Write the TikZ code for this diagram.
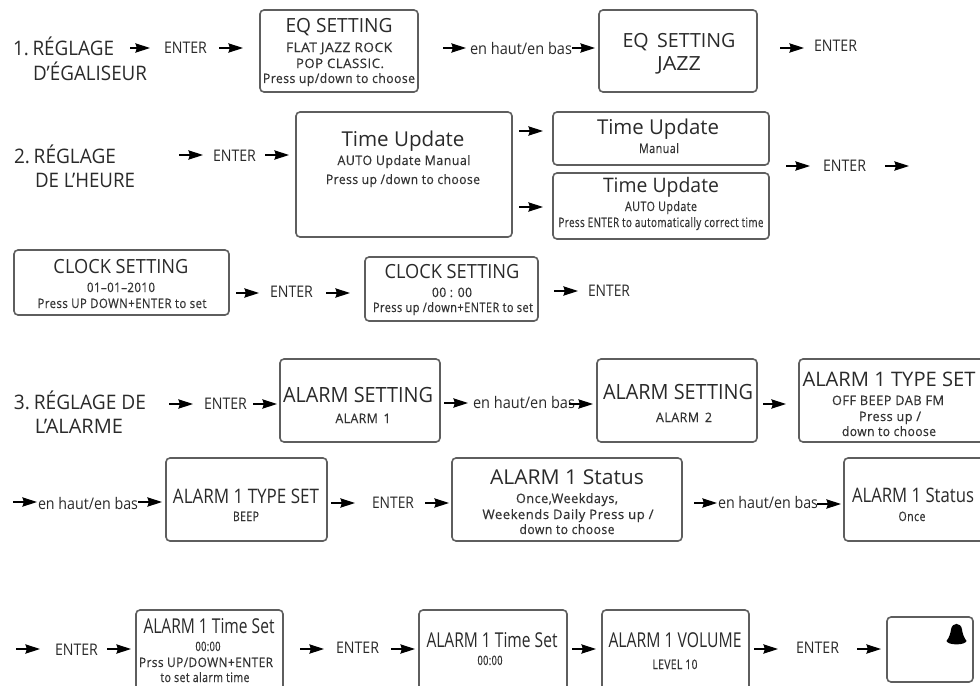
\documentclass[tikz,border=0pt]{standalone}
\usepackage{graphicx}
\usepackage{fontspec}
\setmainfont{Open Sans}
\newfontfamily\lcdfont[LetterSpace=4,FakeBold=0.5]{Open Sans}
\usetikzlibrary{arrows.meta}
\newdimen\pxu \pxu=0.75pt
\definecolor{inkc}{HTML}{2A2A2A}
\definecolor{edgec}{HTML}{5E5E5E}
\tikzset{
  lcdbox/.style={draw=edgec,line width=1.2pt,rounded corners=3pt,inner sep=0pt,outer sep=0pt,fill=white},
  txt/.style={inner sep=0pt,outer sep=0pt,text=inkc},
  arw/.style={line width=0.8pt,-{Stealth[length=11pt,width=7pt,inset=1.2pt]}},
}
% box: name x0 y0 x1 y1
\newcommand{\bx}[5]{\node[lcdbox,minimum width={(#4-#2)*0.75pt},minimum height={(#5-#3)*0.75pt}] (#1) at ({(#2+#4)/2},{(#3+#5)/2}) {};}
% big centred text: name cx base width size text
\newcommand{\ctr}[6]{\node[txt,anchor=base] (#1) at (#2,#3) {\resizebox{#4\pxu}{\height}{\fontsize{#5\pxu}{#5\pxu}\selectfont #6}};}
% small centred text: name cx base width text
\newcommand{\sml}[5]{\node[txt,anchor=base,text=black!80] (#1) at (#2,#3) {\resizebox{#4\pxu}{\height}{\fontsize{13\pxu}{13\pxu}\lcdfont #5}};}
% left text: name x base width size text
\newcommand{\lft}[6]{\node[txt,anchor=base west] (#1) at (#2,#3) {\resizebox{#4\pxu}{\height}{\fontsize{#5\pxu}{#5\pxu}\selectfont #6}};}
% arrow: name tailx tipx y target targetx
\newcommand{\arw}[6]{\coordinate (#1) at (#2,#4); \draw[arw,shorten >={(#6-#3)*0.75pt}] (#1) -- (#1 -| #5.west);}
\begin{document}
\begin{tikzpicture}[x=0.75pt,y=-0.75pt]
\clip (0,0) rectangle (980,685);
\fill[white] (0,0) rectangle (980,685);
% row 1
\lft{la1}{13}{56}{101}{20}{1.\hspace{0.2em}RÉGLAGE}
\lft{la1b}{33}{80}{114}{20}{D’ÉGALISEUR}
\lft{e1}{164}{54}{43}{16}{ENTER}
\bx{eqa}{260}{10}{418}{92}
\ctr{eqaA}{339}{33}{107}{19.5}{EQ SETTING}
\sml{eqaB}{339}{52}{106}{FLAT JAZZ ROCK}
\sml{eqaC}{340}{68}{88}{POP CLASSIC.}
\sml{eqaD}{339}{83}{152}{Press up/down to choose}
\lft{h1}{470}{55}{102}{16}{en haut/en bas}
\bx{eqb}{599}{10}{757}{92}
\ctr{eqbA}{679}{48}{113}{19.5}{EQ\, SETTING}
\ctr{eqbB}{679}{70}{44}{19.5}{JAZZ}
\lft{e2}{814}{52}{43}{16}{ENTER}
\arw{a1}{130}{150}{48}{e1}{164}
\arw{a2}{219}{243}{48}{eqa}{260}
\arw{a3}{443}{466}{48}{h1}{470}
\arw{a4}{572}{595}{48}{eqb}{599}
\arw{a5}{780}{804}{48}{e2}{814}
% row 2
\lft{la2}{14}{163}{102}{20}{2.\hspace{0.2em}RÉGLAGE}
\lft{la2b}{35}{187}{100}{20}{DE L’HEURE}
\lft{e3}{213}{161}{43}{16}{ENTER}
\bx{tua}{296}{112}{512}{237}
\ctr{tuaA}{403}{146}{123}{20.5}{Time Update}
\sml{tuaB}{404}{165}{133}{AUTO Update Manual}
\sml{tuaC}{403}{184}{154}{Press up /down to choose}
\bx{tub}{553}{112}{769}{165}
\ctr{tubA}{658}{134}{122}{20.5}{Time Update}
\sml{tubB}{659}{153}{40}{Manual}
\bx{tuc}{553}{173}{769}{239}
\ctr{tucA}{661}{192}{116}{20}{Time Update}
\sml{tucB}{661}{211}{72}{AUTO Update}
\sml{tucC}{661}{227}{205}{Press ENTER to automatically correct time}
\lft{e4}{823}{171}{43}{16}{ENTER}
\arw{a6}{179}{203}{155}{e3}{213}
\arw{a7}{265}{289}{155}{tua}{296}
\arw{a8}{519}{543}{131}{tub}{553}
\arw{a9}{519}{543}{207}{tuc}{553}
\arw{a10}{786}{810}{166}{e4}{823}
\coordinate (a11) at (885,166);
\coordinate (a11e) at (909,166);
\draw[arw] (a11) -- (a11e);
% clock row
\bx{cka}{14}{250}{229}{315}
\ctr{ckaA}{121}{273}{135}{19.5}{CLOCK SETTING}
\sml{ckaB}{121}{292}{68}{01–01–2010}
\sml{ckaC}{122}{308}{169}{Press UP DOWN+ENTER to set}
\lft{e5}{270}{297}{43}{16}{ENTER}
\bx{ckb}{365}{257}{538}{321}
\ctr{ckbA}{452}{278}{135}{19.5}{CLOCK SETTING}
\sml{ckbB}{452}{297}{40}{00 : 00}
\sml{ckbC}{453}{312}{160}{Press up /down+ENTER to set}
\lft{e6}{588}{296}{42}{16}{ENTER}
\arw{a12}{236}{259}{293}{e5}{270}
\arw{a13}{326}{350}{293}{ckb}{365}
\arw{a14}{554}{578}{291}{e6}{588}
% row 3
\lft{la3}{14}{409}{132}{20}{3.\hspace{0.2em}RÉGLAGE DE}
\lft{la3b}{35}{433}{88}{20}{L’ALARME}
\lft{e7}{204}{409}{43}{16}{ENTER}
\bx{ala}{280}{359}{440}{442}
\ctr{alaA}{358}{402}{150}{21}{ALARM SETTING}
\sml{alaB}{363}{423}{55}{ALARM\, 1}
\lft{h2}{473}{408}{102}{16}{en haut/en bas}
\bx{alb}{597}{359}{757}{442}
\ctr{albA}{678}{399}{150}{21}{ALARM SETTING}
\sml{albB}{684}{422}{56}{ALARM\, 2}
\bx{tya}{799}{359}{1000}{442}
\ctr{tyaA}{889}{386}{173}{20}{ALARM 1 TYPE SET}
\sml{tyaB}{888}{405}{112}{OFF BEEP DAB FM}
\sml{tyaC}{890}{421}{62}{Press up /}
\sml{tyaD}{889}{436}{94}{down to choose}
\arw{a15}{169}{193}{404}{e7}{204}
\arw{a16}{253}{277}{404}{ala}{280}
\arw{a17}{444}{468}{403}{h2}{473}
\arw{a18}{569}{593}{404}{alb}{597}
\arw{a19}{763}{786}{404}{tya}{799}
% row 4
\lft{h3}{38}{509}{100}{16}{en haut/en bas}
\bx{tyb}{166}{458}{327}{541}
\ctr{tybA}{246}{503}{146}{20}{ALARM 1 TYPE SET}
\sml{tybB}{246}{521}{26}{BEEP}
\lft{e8}{372}{508}{42}{16}{ENTER}
\bx{sta}{452}{458}{682}{541}
\ctr{staA}{567}{484}{154}{20.5}{ALARM 1 Status}
\sml{staB}{567}{503}{102}{Once,Weekdays,}
\sml{staC}{568}{519}{171}{Weekends Daily Press up /}
\sml{staD}{567}{534}{95}{down to choose}
\lft{h4}{718}{508}{100}{16}{en haut/en bas}
\bx{stb}{844}{458}{1000}{541}
\ctr{stbA}{913}{502}{122}{20}{ALARM 1 Status}
\sml{stbB}{912}{521}{27}{Once}
\arw{a20}{13}{37}{502}{h3}{38}
\arw{a21}{138}{162}{502}{tyb}{166}
\arw{a22}{331}{355}{503}{e8}{372}
\arw{a23}{425}{449}{503}{sta}{452}
\arw{a24}{694}{717}{503}{h4}{718}
\arw{a25}{817}{841}{504}{stb}{844}
% row 5
\lft{e9}{55}{655}{43}{16}{ENTER}
\bx{tsa}{136}{610}{283}{700}
\ctr{tsaA}{209}{633}{131}{20.5}{ALARM 1 Time Set}
\sml{tsaB}{208}{651}{25}{00:00}
\sml{tsaC}{206}{667}{134}{Prss UP/DOWN+ENTER}
\sml{tsaD}{205}{682}{89}{to set alarm time}
\lft{e10}{336}{653}{43}{16}{ENTER}
\bx{tsb}{419}{610}{567}{700}
\ctr{tsbA}{492}{647}{131}{20.5}{ALARM 1 Time Set}
\sml{tsbB}{490}{665}{25}{00:00}
\bx{vol}{602}{610}{749}{700}
\ctr{volA}{675}{647}{133}{20.5}{ALARM 1 VOLUME}
\sml{volB}{675}{669}{45}{LEVEL 10}
\lft{e11}{796}{653}{43}{16}{ENTER}
\bx{bel}{887}{617}{973}{682}
\fill[black] (946.5,641) .. controls (949.5,637) and (950.5,633) .. (951,629.5) .. controls (952,622) and (961,622) .. (962,629.5) .. controls (962.5,633) and (963.5,637) .. (966.5,641) .. controls (965,645.5) and (948,645.5) .. (946.5,641) -- cycle;
\arw{a26}{16}{40}{649}{e9}{55}
\arw{a27}{107}{131}{649}{tsa}{136}
\arw{a28}{300}{324}{649}{e10}{336}
\arw{a29}{391}{415}{649}{tsb}{419}
\arw{a30}{572}{596}{649}{vol}{602}
\arw{a31}{754}{778}{649}{e11}{796}
\arw{a32}{857}{881}{649}{bel}{887}
\end{tikzpicture}
\end{document}
